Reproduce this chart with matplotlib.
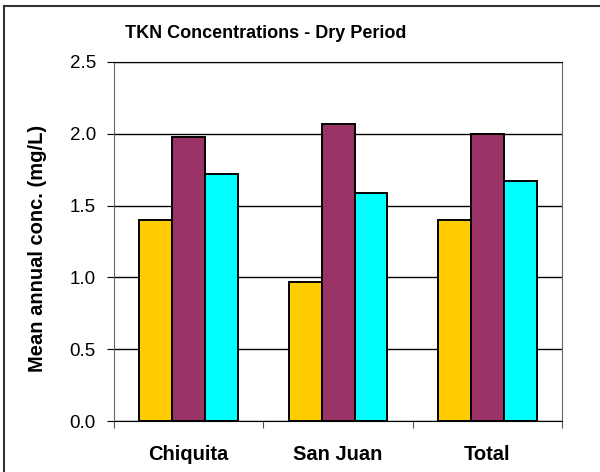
import matplotlib.pyplot as plt
import numpy as np
from matplotlib.lines import Line2D

plt.rcParams['font.family'] = ['Liberation Sans', 'DejaVu Sans']

sites = ['Chiquita', 'San Juan', 'Total']
series_a = [1.40, 0.97, 1.40]
series_b = [1.98, 2.07, 2.00]
series_c = [1.72, 1.59, 1.67]
colors = ['#FFCC00', '#993366', '#00FFFF']
y_ticks = [0.0, 0.5, 1.0, 1.5, 2.0, 2.5]

fig = plt.figure(figsize=(6, 4.72), dpi=100)
ax = fig.add_axes([0.19, 0.108, 0.747, 0.761])

x = np.arange(len(sites))
width = 0.22
for i, (vals, col) in enumerate(zip([series_a, series_b, series_c], colors)):
    ax.bar(x + (i - 1) * width, vals, width, color=col, edgecolor='black',
           linewidth=1.4, zorder=3)

ax.set_xlim(-0.5, 2.5)
ax.set_ylim(0, 2.5)
ax.set_yticks(y_ticks)
ax.set_yticklabels(['%.1f' % t for t in y_ticks], fontsize=13.5)
ax.yaxis.grid(True, color='black', linewidth=1, zorder=0)

# category labels between boundary ticks
ax.set_xticks([-0.5, 0.5, 1.5, 2.5])
ax.set_xticklabels([])
ax.set_xticks(x, minor=True)
ax.set_xticklabels(sites, minor=True, fontsize=14.5, fontweight='bold')
ax.tick_params(axis='x', which='minor', length=0, pad=17)
ax.tick_params(axis='x', which='major', length=5, direction='out', color='#555555')
ax.tick_params(axis='y', length=5, direction='out', pad=8)

for side in ['left', 'right']:
    ax.spines[side].set_color('#666666')
ax.spines['bottom'].set_color('black')
ax.spines['top'].set_color('black')

fig.text(37.5 / 600, 1 - 248.5 / 472, 'Mean annual conc. (mg/L)', rotation=90,
         ha='center', va='center', fontsize=14.5, fontweight='bold')
fig.text(266 / 600, 1 - 34 / 472, 'TKN Concentrations - Dry Period', ha='center',
         va='center', fontsize=13, fontweight='bold')

# chart border (right and bottom edges fall outside the image)
fig.lines.append(Line2D([4 / 600, 1.0], [1 - 6 / 472] * 2, transform=fig.transFigure,
                        color='#333333', linewidth=1.5))
fig.lines.append(Line2D([4 / 600] * 2, [0.0, 1 - 6 / 472], transform=fig.transFigure,
                        color='#333333', linewidth=1.5))

plt.savefig('out.png', dpi=100)
